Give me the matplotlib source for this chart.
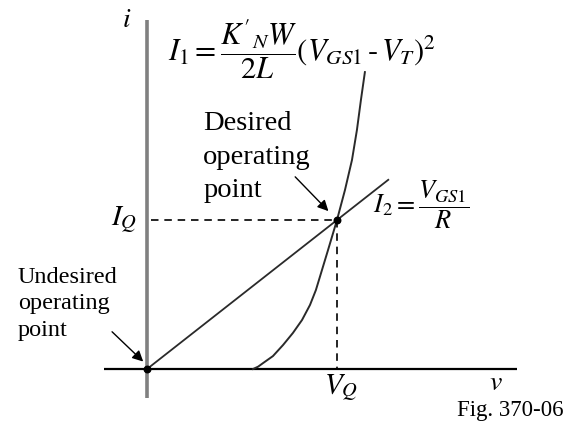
import matplotlib
matplotlib.use("Agg")
import matplotlib.pyplot as plt

plt.rcParams["mathtext.fontset"] = "stix"
plt.rcParams["font.family"] = ["Liberation Serif", "DejaVu Serif"]

# Normalised units: V_Q = 1, I_Q = 1
v_q = 1.0
i_q = 1.0

# I1: square-law transistor curve (v, i) points
curve_v = [0.558, 0.585, 0.611, 0.663, 0.716, 0.768, 0.816, 0.858,
           0.889, 0.905, 0.953, 1.000, 1.042, 1.079, 1.105, 1.126, 1.147]
curve_i = [0.000, 0.016, 0.040, 0.087, 0.161, 0.242, 0.329, 0.430,
           0.530, 0.597, 0.799, 1.000, 1.201, 1.403, 1.604, 1.805, 1.993]

# I2: resistor load line through the origin
line_v = [0.0, 1.27]
line_i = [0.0, 1.27]

# Operating points
op_v = [v_q, 0.0]
op_i = [i_q, 0.0]

fig = plt.figure(figsize=(5.67, 4.24), dpi=100)
ax = fig.add_axes([0, 0, 1, 1])
ax.set_xlim(-0.774, 2.211)
ax.set_ylim(-0.369, 2.477)
ax.axis("off")

# Axes lines
ax.plot([0, 0], [-0.195, 2.342], color="#808080", lw=2.6, solid_capstyle="butt")
ax.plot([-0.226, 1.947], [0, 0], color="black", lw=1.6, solid_capstyle="butt")

# Curves
ax.plot(curve_v, curve_i, color="#2a2a2a", lw=1.4)
ax.plot(line_v, line_i, color="#2a2a2a", lw=1.3)

# Dashed guides to I_Q and V_Q
ax.plot([0.02, v_q], [i_q, i_q], color="black", lw=1.2, dashes=(4.5, 3.5))
ax.plot([v_q, v_q], [i_q, 0], color="black", lw=1.2, dashes=(4.5, 3.5))

ax.scatter(op_v, op_i, s=22, color="black", zorder=5)

# Labels
ax.text(-0.105, 2.34, "$i$", fontsize=20, ha="center", va="center")
ax.text(1.836, -0.095, "$v$", fontsize=20, ha="center", va="center")
ax.text(-0.12, i_q, "$I_Q$", fontsize=21, ha="center", va="center")
ax.text(v_q + 0.02, -0.13, "$V_Q$", fontsize=21, ha="center", va="center")

ax.text(0.11, 2.15, r"$I_1 = \dfrac{K'_N W}{2L}(V_{GS1}\,\text{-}\,V_T)^2$",
        fontsize=22, ha="left", va="center")
ax.text(1.19, 1.10, r"$I_2 = \dfrac{V_{GS1}}{R}$",
        fontsize=19, ha="left", va="center")

ax.text(0.295, 1.73, "Desired\noperating\npoint", fontsize=20.5,
        ha="left", va="top", linespacing=1.45)
ax.text(-0.68, 0.686, "Undesired\noperating\npoint", fontsize=17.5,
        ha="left", va="top", linespacing=1.35)

ax.text(2.19, -0.28, "Fig. 370-06", fontsize=16.5, ha="right", va="center")

# Arrows to the operating points
ax.annotate("", xy=(0.955, 1.06), xytext=(0.78, 1.29),
            arrowprops=dict(arrowstyle="-|>", color="black", lw=1.0,
                            mutation_scale=16, shrinkA=0, shrinkB=0))
ax.annotate("", xy=(-0.02, 0.05), xytext=(-0.184, 0.25),
            arrowprops=dict(arrowstyle="-|>", color="black", lw=1.0,
                            mutation_scale=16, shrinkA=0, shrinkB=0))

fig.savefig("out.png", dpi=100)
